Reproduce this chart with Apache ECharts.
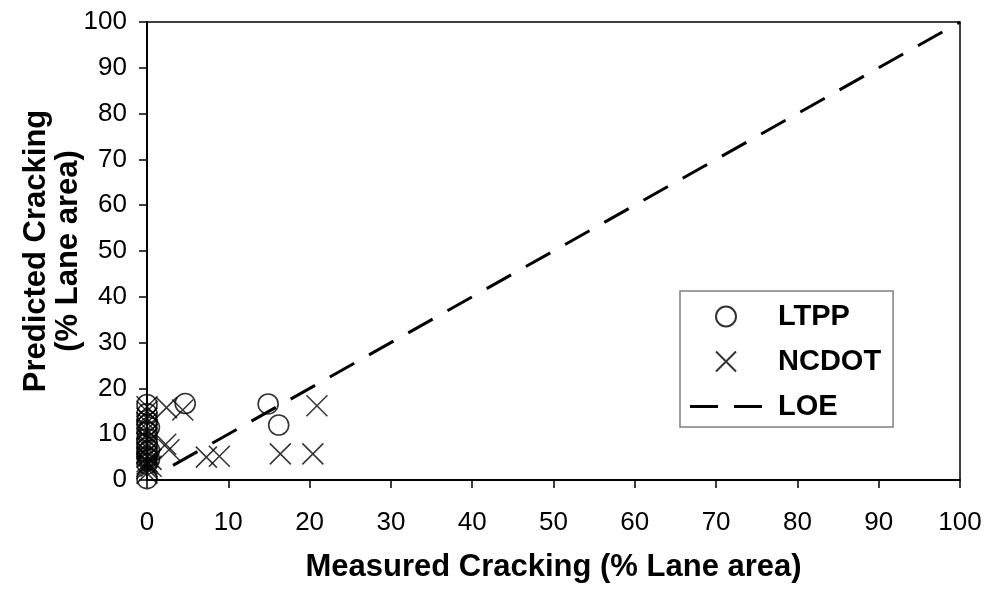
<!DOCTYPE html>
<html>
<head>
<meta charset="utf-8">
<script src="https://cdn.jsdelivr.net/npm/echarts@6/dist/echarts.min.js"></script>
<style>
  html, body { margin: 0; padding: 0; background: #fff; }
  #chart { width: 985px; height: 590px; }
</style>
</head>
<body>
<div id="chart"></div>
<script>
// ---- data ----
const xTicks = [0, 10, 20, 30, 40, 50, 60, 70, 80, 90, 100];
const yTicks = [0, 10, 20, 30, 40, 50, 60, 70, 80, 90, 100];

const ltppX = [0, 0, 0, 0, 0, 0, 0, 0, 0, 0, 0, 0, 0.3, 0.3, 0.3, 4.7, 14.9, 16.2];
const ltppY = [0.3, 3.5, 5, 6, 7, 8, 9, 10.5, 12, 13, 14.5, 16.5, 4.5, 6.5, 11.5, 16.7, 16.6, 12.0];

const ncdotX = [0, 0, 0, 0, 0, 0, 0, 0, 0, 0, 0, 0, 0, 0, 0, 0, 0.5, 0.5, 2.4, 4.4, 2.3, 2.7, 7.3, 8.9, 16.4, 20.4, 20.9];
const ncdotY = [1.5, 2.5, 3, 3.5, 4, 5, 6, 7, 8, 9, 10, 11, 12.5, 13.5, 15, 16, 3, 4.5, 15.8, 15.3, 7.8, 6.6, 5.0, 5.2, 5.7, 5.7, 16.2];

const loeX = [3.2, 100];
const loeY = [3.2, 100];

const zip = (xs, ys) => xs.map((x, i) => [x, ys[i]]);

const FONT = 'Liberation Sans, Arial, sans-serif';
const crossPath = 'path://M0,0L10,10M10,0L0,10';
const dashIcon = 'path://M0,0H28V3H0Z M44,0H72V3H44Z';

const chart = echarts.init(document.getElementById('chart'), null, { renderer: 'canvas' });
chart.setOption({
  animation: false,
  backgroundColor: '#ffffff',
  grid: {
    left: 147, right: 25, top: 22, bottom: 110,
    show: true, borderColor: '#000', borderWidth: 1.5, backgroundColor: 'transparent'
  },
  xAxis: {
    type: 'value', min: xTicks[0], max: xTicks[xTicks.length - 1], interval: 10,
    name: 'Measured Cracking (% Lane area)',
    nameLocation: 'middle', nameGap: 72, nameMoveOverlap: false,
    nameTextStyle: { fontFamily: FONT, fontSize: 31, fontWeight: 'bold', color: '#000' },
    axisLine: { show: true, onZero: false, lineStyle: { color: '#000', width: 2 } },
    axisTick: { show: true, inside: false, length: 8, lineStyle: { color: '#000', width: 1.5 } },
    axisLabel: { fontFamily: FONT, fontSize: 26, color: '#000', margin: 30,
      formatter: v => xTicks.includes(v) ? String(v) : '' },
    splitLine: { show: false }
  },
  yAxis: {
    type: 'value', min: yTicks[0], max: yTicks[yTicks.length - 1], interval: 10,
    name: 'Predicted Cracking\n(% Lane area)',
    nameLocation: 'middle', nameGap: 63, nameMoveOverlap: false,
    nameTextStyle: { fontFamily: FONT, fontSize: 31, fontWeight: 'bold', color: '#000', lineHeight: 32, align: 'center' },
    axisLine: { show: true, onZero: false, lineStyle: { color: '#000', width: 2 } },
    axisTick: { show: true, inside: false, length: 8, lineStyle: { color: '#000', width: 1.5 } },
    axisLabel: { fontFamily: FONT, fontSize: 26, color: '#000', margin: 20,
      formatter: v => yTicks.includes(v) ? String(v) : '' },
    splitLine: { show: false }
  },
  legend: {
    orient: 'vertical', left: 680, top: 291,
    padding: [11, 12, 6, 10],
    itemWidth: 72, itemHeight: 20, itemGap: 16,
    borderColor: '#808080', borderWidth: 1.5, backgroundColor: '#fff',
    textStyle: { fontFamily: FONT, fontSize: 29, fontWeight: 'bold', color: '#000', padding: [0, 0, 0, 11] },
    data: ['LTPP', 'NCDOT', { name: 'LOE', icon: dashIcon, itemStyle: { color: '#000', borderWidth: 0 } }]
  },
  series: [
    {
      name: 'LOE', type: 'line', data: zip(loeX, loeY), symbol: 'none', showSymbol: false,
      lineStyle: { color: '#000', width: 3, type: [28, 17], cap: 'butt' },
      itemStyle: { color: '#000' }, z: 1
    },
    {
      name: 'LTPP', type: 'scatter', data: zip(ltppX, ltppY),
      symbol: 'circle', symbolSize: 20,
      itemStyle: { color: 'rgba(0,0,0,0)', borderColor: '#000', borderWidth: 1.6 }, z: 3
    },
    {
      name: 'NCDOT', type: 'scatter', data: zip(ncdotX, ncdotY),
      symbol: crossPath, symbolSize: 21,
      itemStyle: { color: 'rgba(0,0,0,0)', borderColor: '#000', borderWidth: 1.5 }, z: 3
    }
  ]
});
</script>
</body>
</html>
